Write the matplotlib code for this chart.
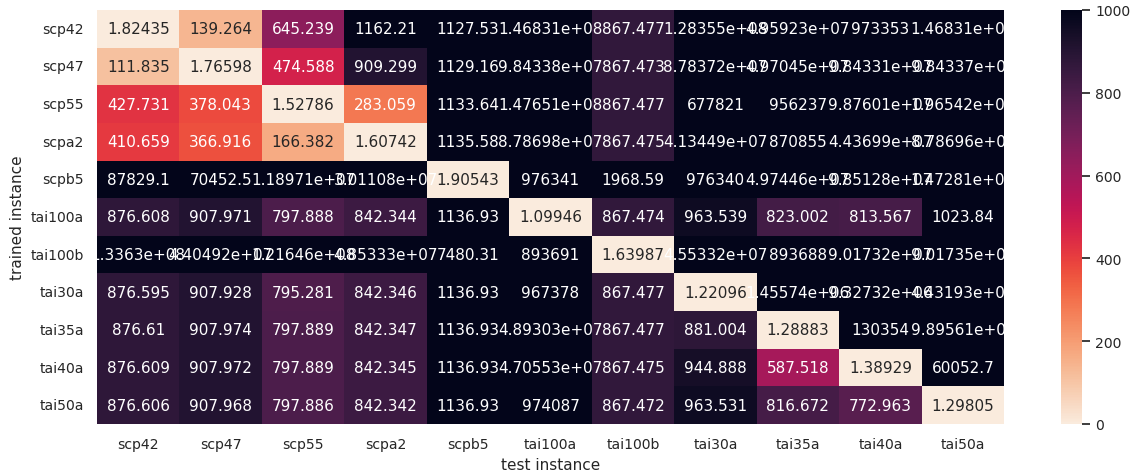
import numpy as np
import pandas as pd
import matplotlib
matplotlib.use("Agg")
import matplotlib.pyplot as plt
import seaborn as sns

instances = ["scp42", "scp47", "scp55", "scpa2", "scpb5", "tai100a",
             "tai100b", "tai30a", "tai35a", "tai40a", "tai50a"]

# one list per trained instance, values per test instance
scp42 = [1.82435, 139.264, 645.239, 1162.21, 1127.53, 1.46831e+08, 867.477,
         1.28355e+08, 4.95923e+07, 973353, 1.46831e+08]
scp47 = [111.835, 1.76598, 474.588, 909.299, 1129.16, 9.84338e+07, 867.473,
         8.78372e+07, 4.97045e+07, 9.84331e+07, 9.84337e+07]
scp55 = [427.731, 378.043, 1.52786, 283.059, 1133.64, 1.47651e+08, 867.477,
         677821, 956237, 9.87601e+07, 1.96542e+08]
scpa2 = [410.659, 366.916, 166.382, 1.60742, 1135.58, 8.78698e+07, 867.475,
         4.13449e+07, 870855, 4.43699e+07, 8.78696e+07]
scpb5 = [87829.1, 70452.5, 1.18971e+07, 3.01108e+07, 1.90543, 976341, 1968.59,
         976340, 4.97446e+07, 9.85128e+07, 1.47281e+08]
tai100a = [876.608, 907.971, 797.888, 842.344, 1136.93, 1.09946, 867.474,
           963.539, 823.002, 813.567, 1023.84]
tai100b = [1.3363e+08, 4.40492e+07, 1.21646e+08, 4.85333e+07, 7480.31, 893691,
           1.63987, 4.55332e+07, 893688, 9.01732e+07, 9.01735e+07]
tai30a = [876.595, 907.928, 795.281, 842.346, 1136.93, 967378, 867.477,
          1.22096, 1.45574e+06, 9.32732e+06, 4.43193e+06]
tai35a = [876.61, 907.974, 797.889, 842.347, 1136.93, 4.89303e+07, 867.477,
          881.004, 1.28883, 130354, 9.89561e+07]
tai40a = [876.609, 907.972, 797.889, 842.345, 1136.93, 4.70553e+07, 867.475,
          944.888, 587.518, 1.38929, 60052.7]
tai50a = [876.606, 907.968, 797.886, 842.342, 1136.93, 974087, 867.472,
          963.531, 816.672, 772.963, 1.29805]

rows = [scp42, scp47, scp55, scpa2, scpb5, tai100a, tai100b,
        tai30a, tai35a, tai40a, tai50a]
df = pd.DataFrame(rows, index=instances, columns=instances)

sns.set_theme()

fig = plt.figure(figsize=(11.36, 4.77), dpi=100)
W, H = 1136, 477
ax = fig.add_axes([97 / W, (H - 425) / H, 907 / W, 414 / H])
cax = fig.add_axes([1061 / W, (H - 425) / H, 21 / W, 414 / H])

sns.heatmap(df, ax=ax, cbar_ax=cax, cmap="rocket_r", vmin=0, vmax=1000,
            annot=True, fmt="g", annot_kws={"size": 11})

ax.set_xlabel("test instance", fontsize=11)
ax.set_ylabel("trained instance", fontsize=11)
ax.tick_params(axis="both", labelsize=10.1)
ax.tick_params(axis="y", rotation=0)
cax.tick_params(labelsize=10.1)
cax.set_yticks([0, 200, 400, 600, 800, 1000])

fig.savefig("out.png", dpi=100)
